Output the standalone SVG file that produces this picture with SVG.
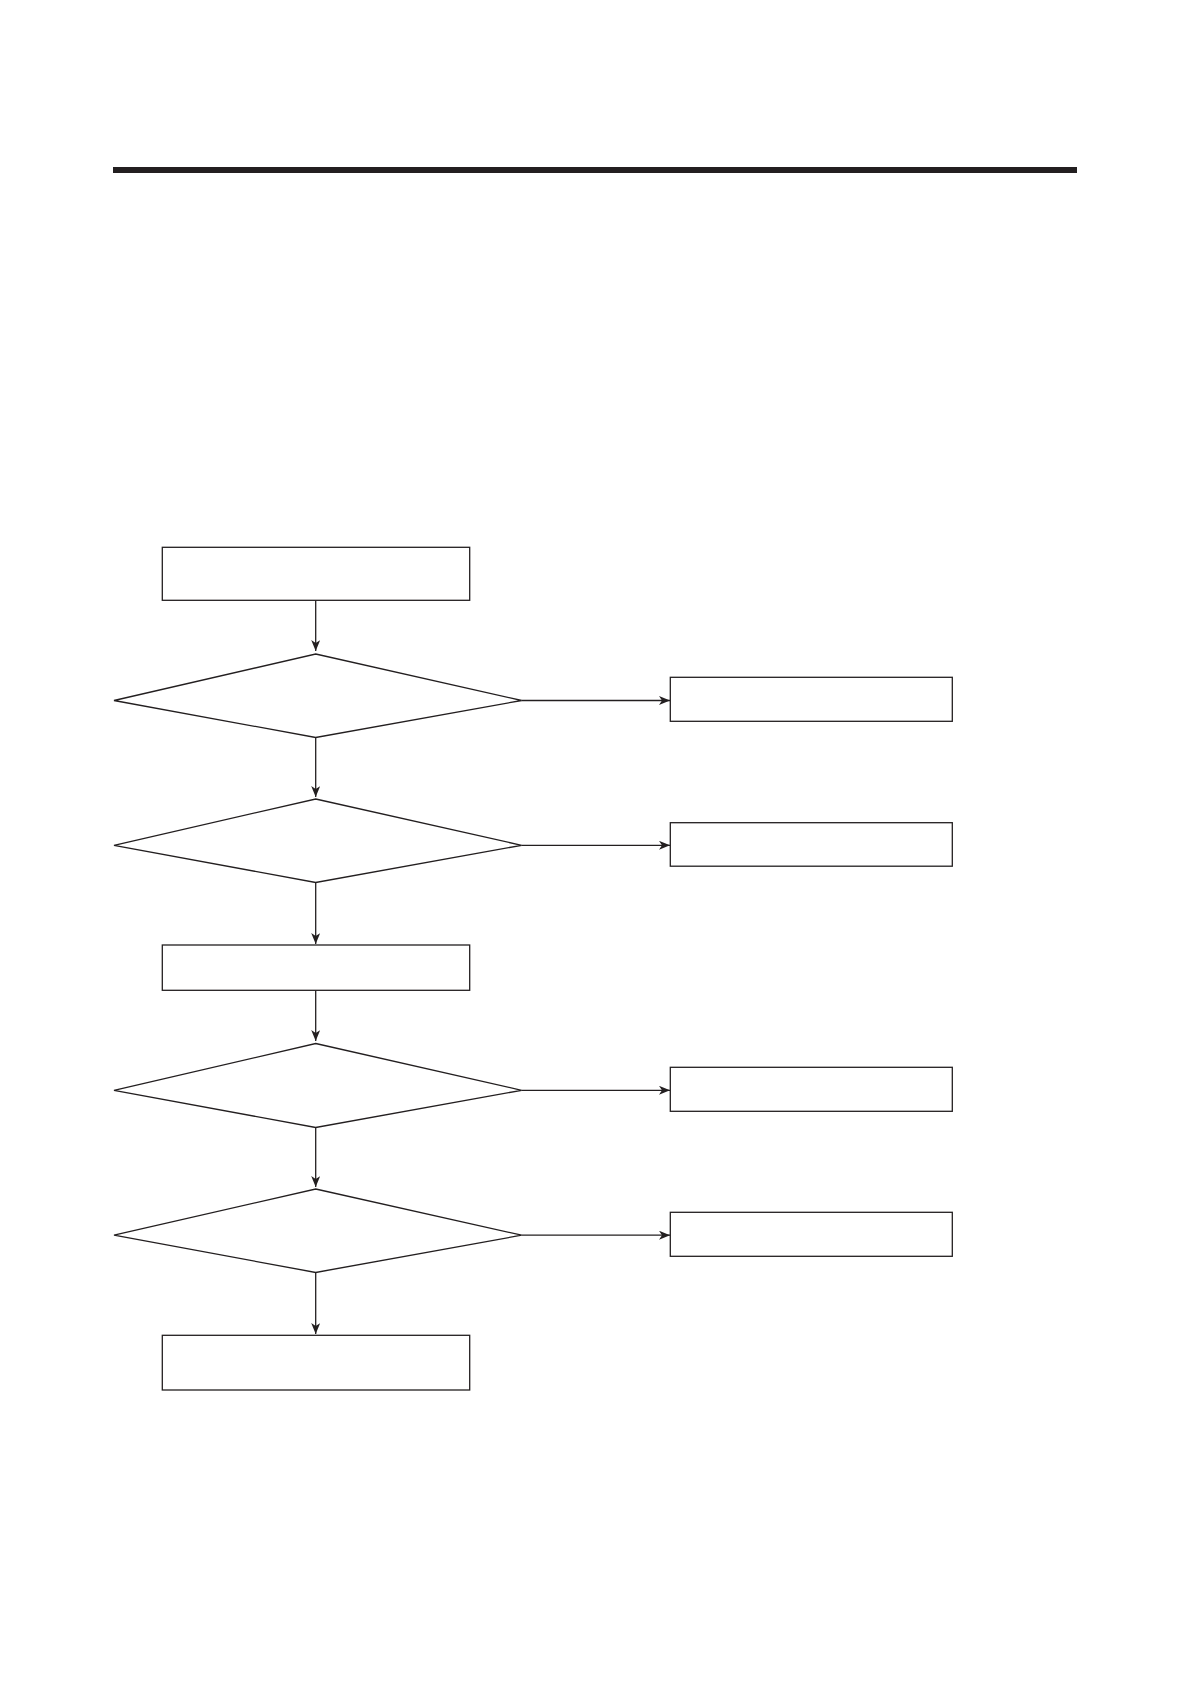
<svg xmlns="http://www.w3.org/2000/svg" width="1191" height="1684" viewBox="0 0 1191 1684">
<style>
.n{fill:#fff;stroke:#231f20;stroke-width:1.3}
.c{fill:none;stroke:#231f20;stroke-width:1.3}
</style>
<defs>
<marker id="ah" markerWidth="11" markerHeight="9" refX="11" refY="4.5" orient="auto" markerUnits="userSpaceOnUse">
<path d="M0,0 L11,4.5 L0,9 L3,4.5 z" fill="#231f20"/>
</marker>
</defs>
<rect x="0" y="0" width="1191" height="1684" fill="#fff"/>
<rect id="topbar" x="113" y="167" width="964" height="6" fill="#231f20"/>
<g id="connectors">
<line class="c" x1="315.7" y1="600.3" x2="315.7" y2="651" marker-end="url(#ah)"/>
<line class="c" x1="315.7" y1="737.5" x2="315.7" y2="797" marker-end="url(#ah)"/>
<line class="c" x1="315.7" y1="882.5" x2="315.7" y2="944" marker-end="url(#ah)"/>
<line class="c" x1="315.7" y1="990.3" x2="315.7" y2="1041" marker-end="url(#ah)"/>
<line class="c" x1="315.7" y1="1127.5" x2="315.7" y2="1187" marker-end="url(#ah)"/>
<line class="c" x1="315.7" y1="1272.5" x2="315.7" y2="1334" marker-end="url(#ah)"/>
<line class="c" x1="521.7" y1="700.5" x2="670" y2="700.5" marker-end="url(#ah)"/>
<line class="c" x1="521.7" y1="845.3" x2="670" y2="845.3" marker-end="url(#ah)"/>
<line class="c" x1="521.7" y1="1090.3" x2="670" y2="1090.3" marker-end="url(#ah)"/>
<line class="c" x1="521.7" y1="1235.2" x2="670" y2="1235.2" marker-end="url(#ah)"/>
</g>
<g id="box1"><rect class="n" x="162.3" y="547.3" width="307.4" height="53"/></g>
<g id="dec1"><polygon class="n" points="315.7,654 521.7,700.5 315.7,737.5 114,700.5"/></g>
<g id="side1"><rect class="n" x="670.3" y="677.3" width="282" height="44"/></g>
<g id="dec2"><polygon class="n" points="315.7,799 521.7,845.3 315.7,882.5 114,845.3"/></g>
<g id="side2"><rect class="n" x="670.3" y="822.7" width="282" height="43.5"/></g>
<g id="box2"><rect class="n" x="162.3" y="945" width="307.4" height="45.3"/></g>
<g id="dec3"><polygon class="n" points="315.7,1043.5 521.7,1090.3 315.7,1127.5 114,1090.3"/></g>
<g id="side3"><rect class="n" x="670.3" y="1067.3" width="282" height="44"/></g>
<g id="dec4"><polygon class="n" points="315.7,1189 521.7,1235.2 315.7,1272.5 114,1235.2"/></g>
<g id="side4"><rect class="n" x="670.3" y="1212.3" width="282" height="44"/></g>
<g id="box3"><rect class="n" x="162.3" y="1335.3" width="307.4" height="54.7"/></g>
</svg>
